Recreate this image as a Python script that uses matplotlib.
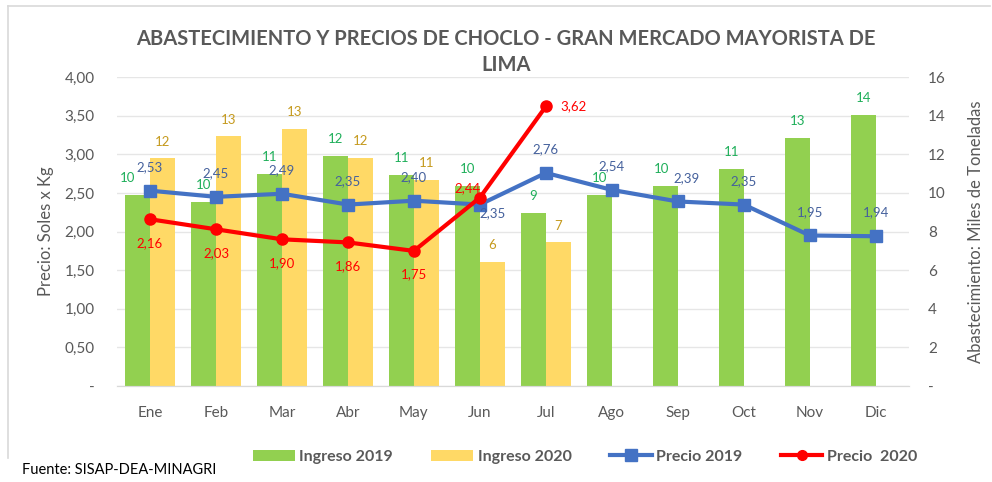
import matplotlib
matplotlib.use("Agg")
import matplotlib.pyplot as plt
from matplotlib.lines import Line2D
from matplotlib.patches import Patch
import numpy as np

plt.rcParams['font.family'] = ['Lato', 'DejaVu Sans']

# --- data ---------------------------------------------------------------
meses = ["Ene", "Feb", "Mar", "Abr", "May", "Jun", "Jul", "Ago", "Sep", "Oct", "Nov", "Dic"]
ingreso_2019 = [9.91, 9.55, 11.00, 11.93, 10.94, 10.38, 8.97, 9.91, 10.36, 11.25, 12.87, 14.05]
ingreso_2020 = [11.79, 12.94, 13.31, 11.83, 10.69, 6.45, 7.45]
precio_2019 = [2.53, 2.45, 2.49, 2.35, 2.40, 2.35, 2.76, 2.54, 2.39, 2.35, 1.95, 1.94]
precio_2020 = [2.16, 2.03, 1.90, 1.86, 1.75, 2.44, 3.62]
precio_ticks = [0, 0.5, 1.0, 1.5, 2.0, 2.5, 3.0, 3.5, 4.0]
ingreso_ticks = [0, 2, 4, 6, 8, 10, 12, 14, 16]

GREEN = "#92D050"
YELLOW = "#FFD966"
BLUE = "#4472C4"
RED = "#FF0000"
GREY = "#595959"

def coma(v, dec=2):
    return f"{v:.{dec}f}".replace(".", ",")

fig = plt.figure(figsize=(9.92, 4.82), dpi=100)
ax = fig.add_axes([0.118, 0.199, 0.798, 0.641])   # price axis (left)
ax2 = ax.twinx()                                   # volume axis (right)
ax.set_zorder(ax2.get_zorder() + 1)
ax.patch.set_visible(False)

x = np.arange(len(meses))
w = 0.38

# bars (volume)
ax2.bar(x[:len(ingreso_2019)] - w / 2, ingreso_2019, w, color=GREEN, zorder=2)
ax2.bar(x[:len(ingreso_2020)] + w / 2, ingreso_2020, w, color=YELLOW, zorder=2)
ax2.set_ylim(0, 16)
ax2.set_yticks(ingreso_ticks)
ax2.set_yticklabels(["-" if t == 0 else str(t) for t in ingreso_ticks])
ax2.grid(axis="y", color="#E6E6E6", linewidth=1.0, zorder=0)
ax2.set_axisbelow(True)

green_off = [(0, 12)] * len(ingreso_2019)
green_off[0] = (-7, 12)
green_off[8] = (-3, 12)
for i, v in enumerate(ingreso_2019):
    ax2.annotate(f"{v:.0f}", (x[i] - w / 2, v), xytext=green_off[i], textcoords="offset points",
                 ha="center", va="center", fontsize=9.5, color="#1FAF5A")
for i, v in enumerate(ingreso_2020):
    ax2.annotate(f"{v:.0f}", (x[i] + w / 2, v), xytext=(0, 12), textcoords="offset points",
                 ha="center", va="center", fontsize=9.5, color="#C59A1E")

# lines (price)
ax.plot(x[:len(precio_2019)], precio_2019, color=BLUE, linewidth=3, marker="s",
        markersize=9, zorder=3)
ax.plot(x[:len(precio_2020)], precio_2020, color=RED, linewidth=3, marker="o",
        markersize=8, zorder=4)
ax.set_ylim(0, 4)
ax.set_yticks(precio_ticks)
ax.set_yticklabels(["-" if t == 0 else coma(t) for t in precio_ticks])

# label placement (points offset)
blue_off = [(0, 17)] * len(precio_2019)
blue_off[5] = (9, -6)
blue_off[8] = (6, 17)
red_off = [(0, -17)] * len(precio_2020)
red_off[5] = (-9, 7)
red_off[6] = (20, 0)

for i, v in enumerate(precio_2019):
    ax.annotate(coma(v), (x[i], v), xytext=blue_off[i], textcoords="offset points",
                ha="center", va="center", fontsize=9.5, color="#44609C", zorder=6)
for i, v in enumerate(precio_2020):
    ax.annotate(coma(v), (x[i], v), xytext=red_off[i], textcoords="offset points",
                ha="center", va="center", fontsize=9.5, color=RED, zorder=6)

ax.set_xlim(-0.5, len(meses) - 0.5)
ax.set_xticks(x)
ax.set_xticklabels(meses)

for a in (ax, ax2):
    for s in ("top", "left", "right"):
        a.spines[s].set_visible(False)
    a.spines["bottom"].set_color("#D9D9D9")
    a.tick_params(length=0, labelsize=11, colors=GREY)
ax.tick_params(axis="x", pad=14)
ax.tick_params(axis="y", pad=16)
ax2.tick_params(axis="y", pad=14)

ax.set_ylabel("Precio: Soles x Kg", fontsize=12, color=GREY, labelpad=8)
ax2.set_ylabel("Abastecimiento: Miles de Toneladas", fontsize=12, color=GREY, labelpad=16)

fig.text(0.51, 0.892, "ABASTECIMIENTO Y PRECIOS DE CHOCLO - GRAN MERCADO MAYORISTA DE\nLIMA",
         ha="center", va="center", fontsize=14.5, fontweight="bold", color=GREY,
         linespacing=1.35)

handles = [
    Patch(facecolor=GREEN, edgecolor="none"),
    Patch(facecolor=YELLOW, edgecolor="none"),
    Line2D([0], [0], color=BLUE, linewidth=3, marker="s", markersize=8),
    Line2D([0], [0], color=RED, linewidth=3, marker="o", markersize=7),
]
labels = ["Ingreso 2019", "Ingreso 2020", "Precio 2019", "Precio  2020"]
leg = fig.legend(handles, labels, loc="center", bbox_to_anchor=(0.59, 0.052), ncol=4,
                 frameon=False, fontsize=11.5, handlelength=2.6, handletextpad=0.3,
                 columnspacing=2.4)
for t in leg.get_texts():
    t.set_color(GREY)
    t.set_fontweight("bold")

fig.text(0.022, 0.025, "Fuente: SISAP-DEA-MINAGRI", fontsize=10.5, color="black",
         ha="left", va="center")

# chart frame
fig.add_artist(Line2D([0.008, 0.008], [0.05, 0.988], color="#D9D9D9", linewidth=1.2))
fig.add_artist(Line2D([0.008, 0.998], [0.988, 0.988], color="#D9D9D9", linewidth=1.2))

fig.savefig("out.png", dpi=100)
